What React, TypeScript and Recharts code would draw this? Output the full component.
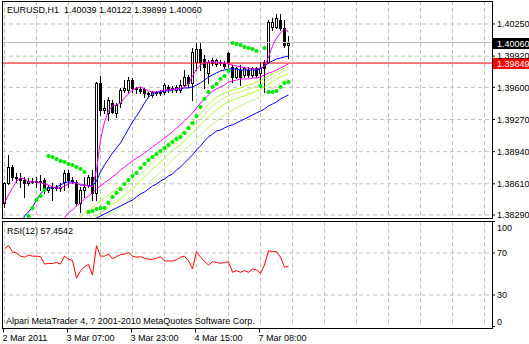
import React from 'react';
import { Bar, CartesianGrid, ComposedChart, Line, LineChart, ReferenceLine, XAxis, YAxis } from 'recharts';

const FONT = '"Liberation Sans", Arial, sans-serif';
const GRID = '#c0c0c0';

// EURUSD H1, bars 0..71
const opens = [
  1.38413, 1.38619, 1.38783, 1.3868, 1.3867, 1.38649, 1.38619, 1.38639, 1.38629, 1.38639,
  1.38649, 1.38547, 1.38578, 1.38567, 1.38578, 1.38629, 1.38721, 1.38649, 1.38629, 1.38413,
  1.38547, 1.38598, 1.3868, 1.38516, 1.39645, 1.39368, 1.39337, 1.39439, 1.39337, 1.39439,
  1.39573, 1.39573, 1.39675, 1.39593, 1.39583, 1.39583, 1.39542, 1.39522, 1.39552, 1.39542,
  1.39552, 1.39604, 1.39583, 1.39573, 1.39573, 1.39624, 1.39706, 1.39645, 1.3986, 1.39994,
  1.39891, 1.39747, 1.39881, 1.3984, 1.3986, 1.3985, 1.39952, 1.39809, 1.39706, 1.39778,
  1.39727, 1.39778, 1.39727, 1.39799, 1.39747, 1.3986, 1.3986, 1.40219, 1.40219, 1.40291,
  1.40209, 1.40039,
];
const highs = [
  1.38629, 1.38906, 1.38803, 1.38721, 1.38721, 1.3868, 1.3867, 1.3867, 1.3868, 1.38701,
  1.3867, 1.38598, 1.38619, 1.38598, 1.38619, 1.38752, 1.38752, 1.3868, 1.38649, 1.38578,
  1.3868, 1.38701, 1.38752, 1.39655, 1.39716, 1.3947, 1.39501, 1.3947, 1.39439, 1.39593,
  1.39675, 1.39706, 1.39696, 1.39604, 1.39604, 1.39593, 1.39552, 1.39563, 1.39563, 1.39573,
  1.39645, 1.39624, 1.39614, 1.39624, 1.39675, 1.39778, 1.39727, 1.40004, 1.40055, 1.40055,
  1.39932, 1.39881, 1.39901, 1.39891, 1.39881, 1.3987, 1.39963, 1.39829, 1.39809, 1.39829,
  1.39809, 1.39809, 1.39809, 1.39809, 1.3986, 1.39881, 1.40291, 1.40312, 1.40353, 1.40353,
  1.40291, 1.40122,
];
const lows = [
  1.38372, 1.38608, 1.38649, 1.38629, 1.38578, 1.38475, 1.38598, 1.38619, 1.38578, 1.38547,
  1.38516, 1.38526, 1.38444, 1.38547, 1.38537, 1.38547, 1.38578, 1.38619, 1.38393, 1.38321,
  1.38475, 1.38578, 1.38444, 1.38444, 1.39316, 1.39337, 1.39265, 1.39337, 1.39296, 1.39398,
  1.39552, 1.39542, 1.39552, 1.39542, 1.39542, 1.39501, 1.39511, 1.39501, 1.39522, 1.39522,
  1.39532, 1.39552, 1.39552, 1.39552, 1.39552, 1.39614, 1.39604, 1.3947, 1.39778, 1.39778,
  1.39593, 1.39645, 1.39829, 1.39819, 1.39829, 1.39799, 1.39809, 1.39655, 1.39696, 1.39624,
  1.39706, 1.39706, 1.39706, 1.39706, 1.39604, 1.39552, 1.3985, 1.40188, 1.40209, 1.40188,
  1.40014, 1.39899,
];
const closes = [
  1.38619, 1.38783, 1.3868, 1.3867, 1.38649, 1.38619, 1.38639, 1.38629, 1.38639, 1.38629,
  1.38547, 1.38578, 1.38567, 1.38578, 1.38567, 1.38721, 1.38649, 1.38639, 1.38413, 1.38547,
  1.38578, 1.3868, 1.38516, 1.39645, 1.39368, 1.39388, 1.3947, 1.39347, 1.39419, 1.39573,
  1.39593, 1.39675, 1.39593, 1.39583, 1.39563, 1.39542, 1.39532, 1.39552, 1.39542, 1.39552,
  1.39624, 1.39583, 1.39593, 1.39604, 1.39624, 1.39706, 1.39645, 1.39963, 1.39994, 1.3986,
  1.39809, 1.3986, 1.3985, 1.39881, 1.3985, 1.39819, 1.3986, 1.39706, 1.39799, 1.39706,
  1.39799, 1.39727, 1.39799, 1.39727, 1.39799, 1.39799, 1.40271, 1.40271, 1.40312, 1.40209,
  1.40035, 1.4006,
];

// moving averages (magenta fast, blue mid, magenta slow, blue long)
const maFast = [
  1.38413, 1.38495, 1.38567, 1.38639, 1.3867, 1.3866, 1.38629, 1.38629, 1.38629, 1.38619,
  1.38608, 1.38598, 1.38578, 1.38567, 1.38567, 1.38588, 1.38608, 1.38619, 1.38619, 1.38598,
  1.38598, 1.38588, 1.38578, 1.38752, 1.3906, 1.39245, 1.39357, 1.39409, 1.39419, 1.39439,
  1.39491, 1.39532, 1.39573, 1.39593, 1.39604, 1.39583, 1.39563, 1.39552, 1.39552, 1.39563,
  1.39573, 1.39573, 1.39583, 1.39583, 1.39593, 1.39604, 1.39634, 1.39716, 1.39788, 1.39829,
  1.3985, 1.3986, 1.3986, 1.3986, 1.3985, 1.3985, 1.3984, 1.39829, 1.39819, 1.39809,
  1.39799, 1.39799, 1.39788, 1.39788, 1.39799, 1.39819, 1.39911, 1.40024, 1.40106, 1.40158,
  1.40199, 1.40168,
];
const maMid = [
  null, null, null, null, 1.38177, 1.3828, 1.38321, 1.38372, 1.38444, 1.38506,
  1.38547, 1.38567, 1.38567, 1.38578, 1.38598, 1.38619, 1.38629, 1.38629, 1.38619, 1.38598,
  1.38598, 1.38588, 1.38588, 1.38639, 1.38732, 1.38803, 1.38865, 1.38926, 1.38978, 1.39029,
  1.39101, 1.39173, 1.39245, 1.39306, 1.39368, 1.39439, 1.39501, 1.39532, 1.39552, 1.39552,
  1.39563, 1.39563, 1.39573, 1.39583, 1.39583, 1.39593, 1.39593, 1.39604, 1.39624, 1.39645,
  1.39675, 1.39706, 1.39727, 1.39747, 1.39768, 1.39778, 1.39788, 1.39788, 1.39788, 1.39778,
  1.39778, 1.39778, 1.39778, 1.39778, 1.39788, 1.39819, 1.3985, 1.3987, 1.39891, 1.39901,
  1.39911, 1.39922,
];
const maSlow = [
  null, null, null, null, null, null, null, null, null, null,
  null, null, null, null, 1.38219, 1.3826, 1.38311, 1.38342, 1.38383, 1.38413,
  1.38454, 1.38485, 1.38516, 1.38557, 1.38588, 1.38619, 1.38649, 1.3868, 1.38711, 1.38752,
  1.38783, 1.38814, 1.38844, 1.38875, 1.38896, 1.38926, 1.38957, 1.38988, 1.39019, 1.3905,
  1.3908, 1.39111, 1.39142, 1.39183, 1.39214, 1.39255, 1.39296, 1.39337, 1.39388, 1.39439,
  1.39481, 1.39522, 1.39563, 1.39583, 1.39604, 1.39624, 1.39655, 1.39665, 1.39675, 1.39686,
  1.39686, 1.39686, 1.39696, 1.39696, 1.39706, 1.39727, 1.39747, 1.39758, 1.39778, 1.39799,
  1.39819, 1.3984,
];
const maLong = [
  null, null, null, null, null, null, null, null, null, null,
  null, null, null, null, null, null, null, null, null, null,
  null, null, 1.38229, 1.3826, 1.3828, 1.38301, 1.38321, 1.38342, 1.38362, 1.38383,
  1.38403, 1.38424, 1.38444, 1.38475, 1.38506, 1.38526, 1.38557, 1.38588, 1.38608, 1.38639,
  1.3866, 1.3869, 1.38711, 1.38752, 1.38783, 1.38824, 1.38865, 1.38906, 1.38957, 1.38998,
  1.3905, 1.39091, 1.39121, 1.39152, 1.39162, 1.39183, 1.39203, 1.39214, 1.39234, 1.39255,
  1.39275, 1.39296, 1.39316, 1.39337, 1.39357, 1.39378, 1.39409, 1.39429, 1.3945, 1.39481,
  1.39501, 1.39522,
];

// yellow-green ribbon
const ribbon1 = [
  null, null, null, null, null, null, null, null, null, null,
  null, null, null, null, null, null, null, null, 1.38239, 1.3827,
  1.38311, 1.38342, 1.38372, 1.38403, 1.38434, 1.38465, 1.38495, 1.38526, 1.38557, 1.38588,
  1.38619, 1.38649, 1.3869, 1.38732, 1.38773, 1.38803, 1.38844, 1.38885, 1.38916, 1.38957,
  1.38988, 1.39029, 1.3906, 1.39091, 1.39121, 1.39162, 1.39203, 1.39245, 1.39286, 1.39327,
  1.39378, 1.39429, 1.3947, 1.39501, 1.39522, 1.39542, 1.39563, 1.39573, 1.39583, 1.39593,
  1.39614, 1.39624, 1.39634, 1.39655, 1.39665, 1.39696, 1.39716, 1.39737, 1.39758, 1.39778,
  1.39799, 1.39809,
];
const ribbon2 = [
  null, null, null, null, null, null, null, null, null, null,
  null, null, null, null, null, null, null, null, null, null,
  1.38219, 1.38249, 1.3829, 1.38331, 1.38362, 1.38403, 1.38434, 1.38465, 1.38495, 1.38526,
  1.38557, 1.38588, 1.38629, 1.3867, 1.38711, 1.38752, 1.38793, 1.38824, 1.38865, 1.38906,
  1.38937, 1.38978, 1.39009, 1.39039, 1.3907, 1.39111, 1.39152, 1.39193, 1.39234, 1.39275,
  1.39316, 1.39368, 1.39409, 1.39439, 1.3947, 1.39491, 1.39511, 1.39532, 1.39542, 1.39552,
  1.39573, 1.39583, 1.39593, 1.39614, 1.39624, 1.39655, 1.39675, 1.39706, 1.39727, 1.39747,
  1.39768, 1.39778,
];
const ribbon3 = [
  null, null, null, null, null, null, null, null, null, null,
  null, null, null, null, null, null, null, null, null, null,
  null, 1.38198, 1.38239, 1.3828, 1.38311, 1.38342, 1.38372, 1.38403, 1.38424, 1.38454,
  1.38485, 1.38526, 1.38557, 1.38598, 1.38639, 1.3868, 1.38721, 1.38762, 1.38793, 1.38834,
  1.38875, 1.38916, 1.38957, 1.38988, 1.39009, 1.3905, 1.39091, 1.39132, 1.39173, 1.39214,
  1.39255, 1.39296, 1.39337, 1.39368, 1.39398, 1.39429, 1.3945, 1.3947, 1.39481, 1.39501,
  1.39511, 1.39532, 1.39542, 1.39563, 1.39573, 1.39604, 1.39634, 1.39655, 1.39686, 1.39706,
  1.39727, 1.39737,
];
const ribbon4 = [
  null, null, null, null, null, null, null, null, null, null,
  null, null, null, null, null, null, null, null, null, null,
  null, null, null, 1.38198, 1.38239, 1.3827, 1.38301, 1.38321, 1.38342, 1.38372,
  1.38403, 1.38434, 1.38465, 1.38495, 1.38537, 1.38578, 1.38619, 1.3866, 1.3869, 1.38732,
  1.38773, 1.38814, 1.38855, 1.38896, 1.38926, 1.38957, 1.38998, 1.39029, 1.3907, 1.39111,
  1.39152, 1.39193, 1.39224, 1.39255, 1.39286, 1.39316, 1.39347, 1.39368, 1.39388, 1.39409,
  1.39429, 1.3945, 1.3947, 1.39481, 1.39501, 1.39532, 1.39563, 1.39593, 1.39614, 1.39645,
  1.39665, 1.39686,
];
const ribbonColors = ['#adff2f', '#c8f08c', '#adff2f', '#c8f08c'];

// parabolic SAR
const sar = [
  null, null, null, null, null, null, 1.3828, 1.38362, 1.38444, 1.38485,
  1.38547, 1.38896, 1.38885, 1.38865, 1.38844, 1.38834, 1.38814, 1.38803, 1.38783, 1.38762,
  1.38732, 1.38321, 1.38331, 1.38352, 1.38362, 1.38362, 1.38413, 1.38475, 1.38516, 1.38557,
  1.38608, 1.38649, 1.3869, 1.38721, 1.38773, 1.38814, 1.38855, 1.38885, 1.38916, 1.38947,
  1.38978, 1.39009, 1.39039, 1.3907, 1.39091, 1.39132, 1.39183, 1.39234, 1.39306, 1.39398,
  1.39481, 1.39552, 1.39604, 1.39634, 1.39686, 1.39716, 1.39768, 1.40055, 1.40045, 1.40035,
  1.40014, 1.40004, 1.39994, 1.39973, 1.39614, 1.40004, 1.39552, 1.39552, 1.39563, 1.39604,
  1.39645, 1.39655,
];

// RSI(12)
const rsi = [
  74, 77, 71, 70, 67, 66, 68, 67, 67, 66.5,
  59.5, 60, 60, 61, 59.5, 67, 64, 63, 46, 53,
  57, 59, 49, 77, 67, 67, 69, 64.5, 66.5, 68.5,
  69, 70.5, 67, 66, 66.5, 65, 64, 64, 65, 66.5,
  62.4, 62.4, 62.4, 63.5, 66, 67, 62.5, 55, 71.3, 66,
  62, 58.6, 61.7, 61, 60.2, 61, 61.7, 51.6, 53.2, 51.6,
  53.2, 51.6, 54.8, 53.8, 50.6, 58.6, 72.2, 71.3, 71.3, 66,
  56.4, 57.4542,
];

const priceTicks = [1.3829, 1.3861, 1.3894, 1.3927, 1.396, 1.3992, 1.4025];
const rsiTicks = [0, 30, 70, 100];
const rsiGrid = [30, 70];
const gridBars = [0, 8, 16, 24, 32, 40, 48, 56, 64, 72, 80, 88, 96, 104, 112, 120];
const timeBars = [0, 16, 32, 48, 64];
const timeLabels = ['2 Mar 2011', '3 Mar 07:00', '3 Mar 23:00', '4 Mar 15:00', '7 Mar 08:00'];
const bidPrice = 1.4006;
const redLevel = 1.39849;

const xDomain: [number, number] = [-0.625, 121.875];
const priceDomain: [number, number] = [1.38259, 1.40486];

const rows = closes.map((close, i) => ({
  i,
  open: opens[i],
  high: highs[i],
  low: lows[i],
  close,
  range: [lows[i], highs[i]],
  maFast: maFast[i],
  maMid: maMid[i],
  maSlow: maSlow[i],
  maLong: maLong[i],
  r1: ribbon1[i],
  r2: ribbon2[i],
  r3: ribbon3[i],
  r4: ribbon4[i],
  sar: sar[i],
}));
const rsiRows = rsi.map((v, i) => ({ i, rsi: v }));

function Candle(props: any) {
  const { x, y, width, height, payload } = props;
  if (!payload || height == null) return <g />;
  const { open, high, low, close } = payload;
  const k = height / (high - low);
  const py = (v: number) => Math.round(y + (high - v) * k);
  const cx = Math.floor(x + width / 2) + 0.5;
  const bull = close >= open;
  const top = py(Math.max(open, close));
  const bot = py(Math.min(open, close));
  return (
    <g>
      <line x1={cx} x2={cx} y1={py(high)} y2={py(low) + 1} stroke="#000" strokeWidth={1} />
      {bull ? (
        <rect x={cx - 1} y={top + 0.5} width={2} height={Math.max(bot - top, 0)} fill="#fff" stroke="#000" strokeWidth={1} />
      ) : (
        <rect x={cx - 1.5} y={top} width={3} height={Math.max(bot - top + 1, 1)} fill="#000" />
      )}
    </g>
  );
}

function SarDot(props: any) {
  const { cx, cy, value, index } = props;
  if (cx == null || cy == null || value == null) return <g key={`s${index}`} />;
  return <circle key={`s${index}`} cx={cx} cy={Math.round(cy)} r={2.1} fill="#00e600" />;
}

function PriceTag({ viewBox, text, bg }: any) {
  if (!viewBox) return null;
  const x = viewBox.x + viewBox.width + 1;
  const y = Math.round(viewBox.y);
  return (
    <g>
      <rect x={x} y={y - 5} width={36} height={11} fill={bg} />
      <text x={x + 4} y={y + 3.5} fill="#fff" fontSize={9} fontFamily={FONT}>
        {text}
      </text>
    </g>
  );
}

function TimeTick({ x, y, payload }: any) {
  const k = timeBars.indexOf(payload.value);
  if (k < 0) return <g />;
  const tx = Math.floor(x) - 0.5;
  return (
    <g>
      <line x1={tx} x2={tx} y1={y + 2} y2={y + 6} stroke="#000" />
      <text x={tx - 1} y={y + 14.5} fontSize={9} fontFamily={FONT} fill="#000">
        {timeLabels[k]}
      </text>
    </g>
  );
}

function RsiTick({ x, y, payload }: any) {
  const shift = payload.value === 100 ? 6 : payload.value === 0 ? -4.5 : 0;
  return (
    <text x={x} y={y + shift + 3} fontSize={9} fontFamily={FONT} fill="#000">
      {payload.value}
    </text>
  );
}

const textStyle: React.CSSProperties = {
  position: 'absolute',
  fontFamily: FONT,
  fontSize: 9,
  lineHeight: '10px',
  whiteSpace: 'pre',
  color: '#000',
  background: '#fff',
};

export default function App() {
  return (
    <div style={{ position: 'absolute', left: 0, top: 0, width: 529, height: 344, background: '#fff', overflow: 'hidden' }}>
      <div style={{ position: 'absolute', left: 0, top: 221 }}>
        <LineChart width={529} height={123} data={rsiRows} margin={{ top: 0.5, right: 0, bottom: 0, left: 2 }}>
          <CartesianGrid stroke={GRID} strokeDasharray="4 3" horizontalValues={rsiGrid} verticalValues={gridBars} />
          <XAxis
            dataKey="i"
            type="number"
            domain={xDomain}
            allowDataOverflow
            ticks={timeBars}
            interval={0}
            height={17.5}
            tickSize={0}
            tickMargin={0}
            axisLine={false}
            tickLine={false}
            tick={<TimeTick />}
          />
          <YAxis
            orientation="right"
            width={37}
            domain={[0, 100]}
            ticks={rsiTicks}
            interval={0}
            tickSize={3}
            axisLine={false}
            tickLine={{ stroke: '#000' }}
            tick={<RsiTick />}
          />
          <Line dataKey="rsi" stroke="#ff0000" strokeWidth={1} dot={false} activeDot={false} isAnimationActive={false} />
        </LineChart>
      </div>

      <div style={{ position: 'absolute', left: 0, top: 0 }}>
        <ComposedChart width={529} height={221} data={rows} margin={{ top: 1, right: 0, bottom: 3, left: 2 }}>
          <CartesianGrid stroke={GRID} strokeDasharray="4 3" horizontalValues={priceTicks} verticalValues={gridBars} />
          <XAxis dataKey="i" type="number" domain={xDomain} ticks={gridBars} allowDataOverflow hide />
          <YAxis
            orientation="right"
            width={37}
            domain={priceDomain}
            allowDataOverflow
            ticks={priceTicks}
            interval={0}
            tickSize={3}
            tickFormatter={(v: number) => v.toFixed(5)}
            axisLine={false}
            tickLine={{ stroke: '#000' }}
            tick={{ fontSize: 9, fill: '#000', fontFamily: FONT }}
          />
          <ReferenceLine y={bidPrice} stroke="#c0c0c0" label={<PriceTag text="1.40060" bg="#000000" />} />
          <ReferenceLine y={redLevel} stroke="#ff0000" label={<PriceTag text="1.39849" bg="#ff0000" />} />
          <Bar dataKey="range" barSize={3} shape={(p: any) => <Candle {...p} />} isAnimationActive={false} />
          <Line dataKey="r4" stroke={ribbonColors[3]} strokeWidth={1} dot={false} activeDot={false} isAnimationActive={false} />
          <Line dataKey="r3" stroke={ribbonColors[2]} strokeWidth={1} dot={false} activeDot={false} isAnimationActive={false} />
          <Line dataKey="r2" stroke={ribbonColors[1]} strokeWidth={1} dot={false} activeDot={false} isAnimationActive={false} />
          <Line dataKey="r1" stroke={ribbonColors[0]} strokeWidth={1} dot={false} activeDot={false} isAnimationActive={false} />
          <Line dataKey="maLong" stroke="#0000ff" strokeWidth={1} dot={false} activeDot={false} isAnimationActive={false} />
          <Line dataKey="maSlow" stroke="#ff00ff" strokeWidth={1} dot={false} activeDot={false} isAnimationActive={false} />
          <Line dataKey="maMid" stroke="#0000ff" strokeWidth={1} dot={false} activeDot={false} isAnimationActive={false} />
          <Line dataKey="maFast" stroke="#ff00ff" strokeWidth={1} dot={false} activeDot={false} isAnimationActive={false} />
          <Line dataKey="sar" stroke="none" dot={(p: any) => <SarDot {...p} />} activeDot={false} isAnimationActive={false} />
        </ComposedChart>
      </div>

      <div style={{ position: 'absolute', left: 2, top: 1, width: 491, height: 218, boxSizing: 'border-box', border: '1px solid #000', pointerEvents: 'none' }} />
      <div style={{ position: 'absolute', left: 2, top: 221, width: 491, height: 108, boxSizing: 'border-box', border: '1px solid #000', pointerEvents: 'none' }} />

      <div style={{ ...textStyle, left: 7, top: 5 }}>EURUSD,H1  1.40039 1.40122 1.39899 1.40060</div>
      <div style={{ ...textStyle, left: 7, top: 226 }}>RSI(12) 57.4542</div>
      <div style={{ ...textStyle, left: 6, top: 316 }}>Alpari MetaTrader 4, ? 2001-2010 MetaQuotes Software Corp.</div>
    </div>
  );
}
